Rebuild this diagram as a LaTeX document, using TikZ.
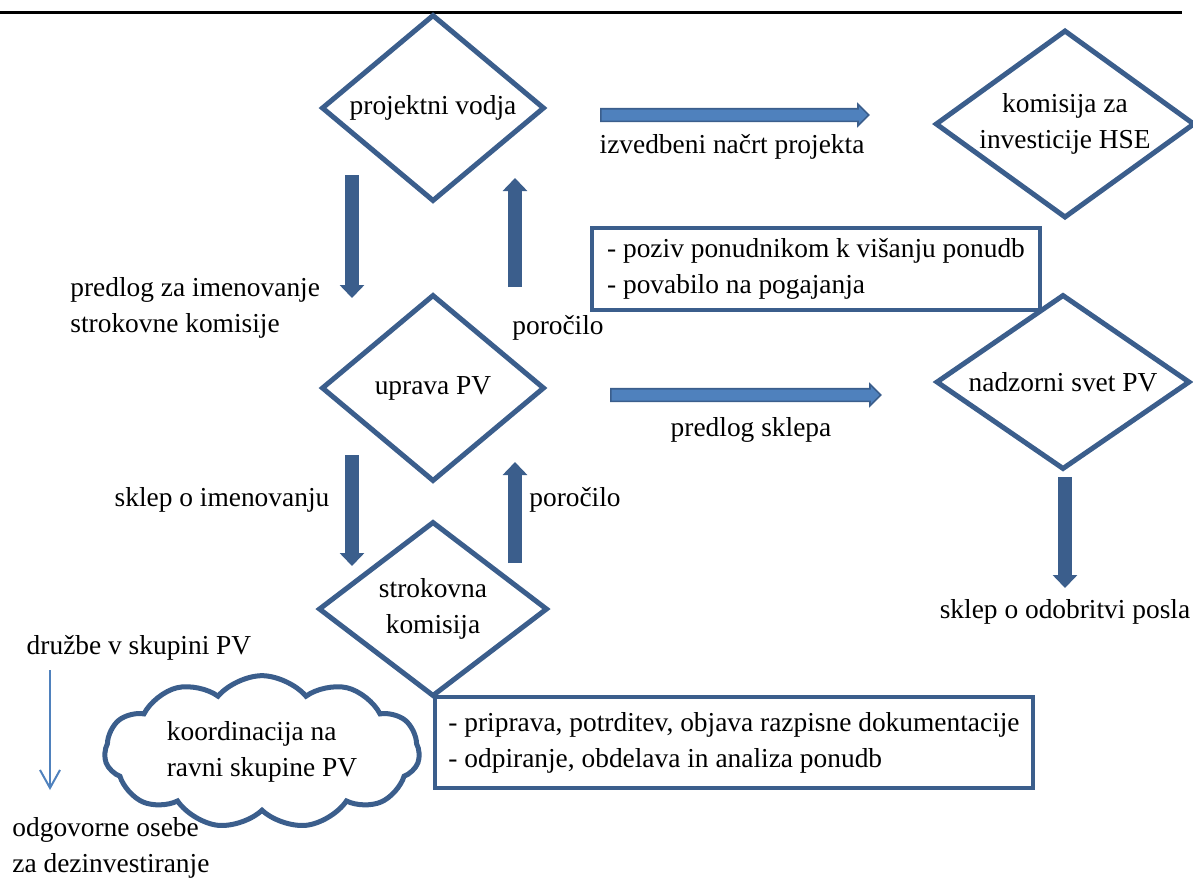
\documentclass[tikz,border=0pt]{standalone}
\usepackage{fontspec}
\setmainfont{Liberation Serif}
\usetikzlibrary{shapes.geometric,shapes.symbols,shapes.arrows,arrows.meta}
\definecolor{dk}{RGB}{59,94,140}
\definecolor{lt}{RGB}{79,129,189}
\begin{document}
\begin{tikzpicture}[x=0.5pt,y=-0.5pt,
  font=\fontsize{13.7}{18}\selectfont,
  dia/.style={diamond, aspect=1.45, draw=dk, line width=2.5pt, inner sep=0pt, align=center},
  infobox/.style={rectangle, draw=dk, line width=2.3pt, align=left, inner xsep=0pt, inner ysep=0pt},
  varrow/.style={draw=dk, line width=7pt, -{Triangle[width=12pt,length=6.5pt]}},
  harrow/.style={single arrow, draw=dk, fill=lt, line width=0.8pt, inner xsep=0pt, inner ysep=2.75pt,
    single arrow head extend=2.25pt, single arrow head indent=0pt},
  lbl/.style={inner sep=0pt, align=left},
  thinarrow/.style={draw=lt, line width=1pt, -{Straight Barb[length=9pt,width=10pt]}}
]
\useasboundingbox (0,0) rectangle (1193,880);
\draw[line width=1.5pt] (0,12) -- (1182,12);

% diamonds
\node[dia, minimum width=111.5pt, minimum height=93.5pt] (pv) at (433,108) {projektni vodja};
\node[dia, minimum width=111.5pt, minimum height=93.5pt] (upr) at (433,388) {uprava PV};
\node[dia, minimum width=114.5pt, minimum height=87.5pt] (strok) at (433,609) {strokovna\\komisija};
\node[dia, minimum width=127pt, minimum height=94pt] (kom) at (1065,124) {komisija za\\investicije HSE};
\node[dia, minimum width=127pt, minimum height=87.5pt] (nad) at (1063,382) {nadzorni svet PV};

% boxes
\node[infobox, minimum width=224pt, minimum height=41pt] (b1) at (816,269)
  {- poziv ponudnikom k višanju ponudb\\- povabilo na pogajanja};
\node[infobox, minimum width=299pt, minimum height=45.5pt] (b2) at (734,742.5)
  {- priprava, potrditev, objava razpisne dokumentacije\\- odpiranje, obdelava in analiza ponudb};

% cloud
\node[cloud, draw=dk, line width=2.5pt, cloud puffs=11, cloud puff arc=100, aspect=2.2,
  minimum width=157.5pt, minimum height=72pt, inner sep=0pt, align=left] (cl) at (262,752)
  {koordinacija na\\ravni skupine PV};

% horizontal block arrows
\node[harrow, minimum height=134pt, anchor=west] (h1) at (600,115) {};
\node[harrow, minimum height=135pt, anchor=west] (h2) at (610,395) {};

% vertical arrows
\coordinate (v1s) at (352,175); \coordinate (v1e) at (352,298);
\coordinate (v2s) at (515,287); \coordinate (v2e) at (515,178);
\coordinate (v3s) at (352,455); \coordinate (v3e) at (352,566);
\coordinate (v4s) at (515,563); \coordinate (v4e) at (515,462);
\coordinate (v5s) at (1065,477); \coordinate (v5e) at (1065,588);
\draw[varrow] (v1s) -- (v1e);
\draw[varrow] (v2s) -- (v2e);
\draw[varrow] (v3s) -- (v3e);
\draw[varrow] (v4s) -- (v4e);
\draw[varrow] (v5s) -- (v5e);

% labels
\node[lbl] (l1) at (732,147) {izvedbeni načrt projekta};
\node[lbl, anchor=west] (l2) at (70,308) {predlog za imenovanje\\strokovne komisije};
\node[lbl] (l3) at (558,328) {poročilo};
\node[lbl] (l4) at (751,430) {predlog sklepa};
\node[lbl] (l5) at (222,500) {sklep o imenovanju};
\node[lbl] (l6) at (575,500) {poročilo};
\node[lbl] (l7) at (1065,612) {sklep o odobritvi posla};
\node[lbl] (l8) at (139,648) {družbe v skupini PV};
\node[lbl, anchor=west] (l9) at (12,848) {odgovorne osebe\\za dezinvestiranje};

% thin arrow
\coordinate (t1) at (50,670); \coordinate (t2) at (50,790);
\draw[thinarrow] (t1) -- (t2);
\end{tikzpicture}
\end{document}
